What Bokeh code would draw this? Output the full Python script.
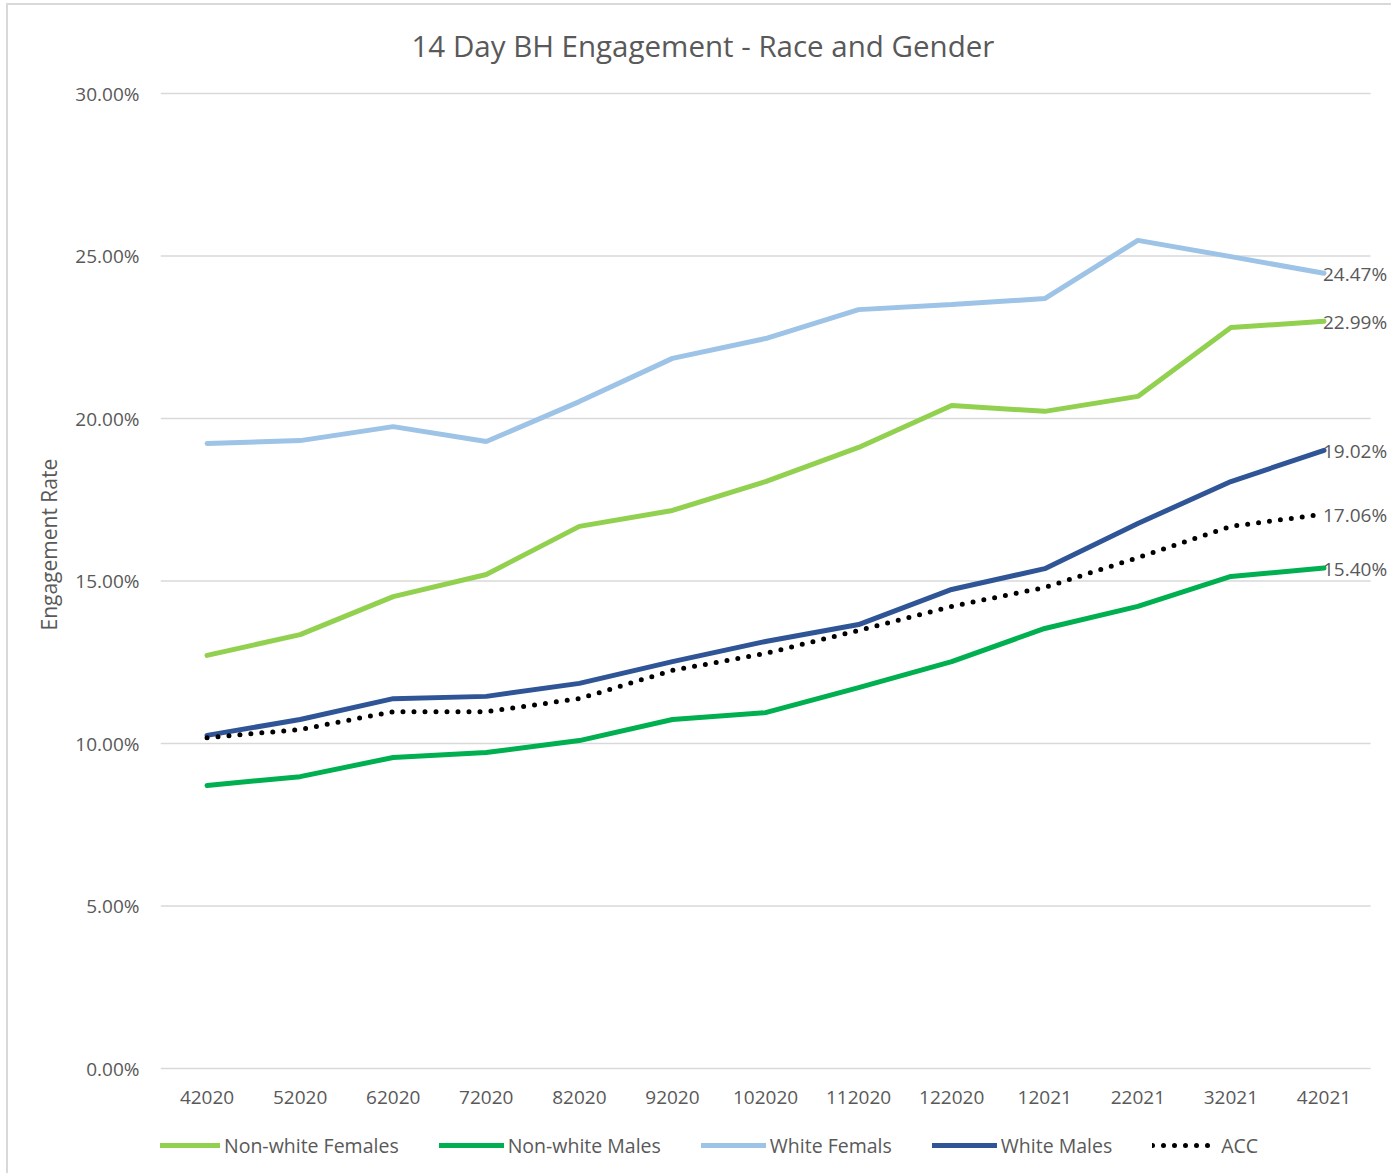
from bokeh.plotting import figure
from bokeh.models import (ColumnDataSource, Range1d, NumeralTickFormatter,
                          FixedTicker, Legend, LegendItem, LabelSet, Label, Title)
from bokeh.core.properties import value
from bokeh.embed import file_html
from bokeh.resources import INLINE

months = ["42020", "52020", "62020", "72020", "82020", "92020", "102020",
          "112020", "122020", "12021", "22021", "32021", "42021"]

nonwhite_females = [12.71, 13.35, 14.52, 15.20, 16.68, 17.17, 18.06, 19.11, 20.40, 20.22, 20.68, 22.80, 22.99]
nonwhite_males = [8.71, 8.98, 9.57, 9.72, 10.09, 10.74, 10.95, 11.72, 12.52, 13.54, 14.22, 15.14, 15.40]
white_femals = [19.23, 19.32, 19.75, 19.29, 20.52, 21.85, 22.46, 23.35, 23.51, 23.69, 25.48, 24.98, 24.47]
white_males = [10.25, 10.74, 11.38, 11.45, 11.85, 12.52, 13.14, 13.66, 14.74, 15.38, 16.77, 18.06, 19.02]
acc = [10.18, 10.43, 10.98, 10.98, 11.38, 12.25, 12.77, 13.48, 14.22, 14.80, 15.72, 16.68, 17.06]

y_ticks = [0, 0.05, 0.10, 0.15, 0.20, 0.25, 0.30]

series_names = ["Non-white Females", "Non-white Males", "White Femals", "White Males", "ACC"]
series_values = [nonwhite_females, nonwhite_males, white_femals, white_males, acc]
series_colors = ["#92d050", "#00b050", "#9dc3e6", "#2f5597", "#000000"]

FONT = "Open Sans"
GREY = "#595959"

idx = list(range(len(months)))
n = len(months)

# layout (pixels): the plotting frame spans the whole chart box so that
# title, category labels and legend can sit inside it without clipping
W, H = 1385, 1170
MB_LEFT, MB_RIGHT, MB_TOP, MB_BOTTOM = 152, 3, 10, 2
frame_h = H - MB_TOP - MB_BOTTOM
frame_w = W - MB_LEFT - MB_RIGHT
band_top, band_bottom = 88 - MB_TOP, 1063 - MB_TOP      # value band 30% .. 0% inside the frame
px_per_unit = (band_bottom - band_top) / 0.30
y_end = 0.30 + band_top / px_per_unit
y_start = -(frame_h - band_bottom) / px_per_unit
px_per_cat = 93.08
x_end = -0.5 + frame_w / px_per_cat

p = figure(width=W, height=H, x_range=Range1d(-0.5, x_end),
           y_range=Range1d(y_start, y_end),
           output_backend="svg", toolbar_location=None,
           min_border_left=MB_LEFT, min_border_right=MB_RIGHT,
           min_border_top=MB_TOP, min_border_bottom=MB_BOTTOM)
p.styles = {"border-left": "2px solid #d9d9d9", "border-top": "2px solid #d9d9d9",
            "margin-left": "6px", "margin-top": "3px"}

p.outline_line_color = None
p.xgrid.grid_line_color = None
p.ygrid.grid_line_color = None
p.xaxis.visible = False

# title
p.add_layout(Label(x=251, y=frame_h - (45 - 5 - MB_TOP), x_units="screen", y_units="screen",
                   text="14 Day BH Engagement - Race and Gender", text_align="left",
                   text_baseline="middle", text_font=FONT, text_font_size="29.5px",
                   text_color=GREY))

# horizontal gridlines spanning the category band only
grid_src = ColumnDataSource(dict(y=y_ticks, x0=[-0.5] * len(y_ticks), x1=[n - 0.5] * len(y_ticks)))
p.segment(x0="x0", x1="x1", y0="y", y1="y", source=grid_src, line_color="#d9d9d9", line_width=1.5)

# category labels under the 0% line
cat_src = ColumnDataSource(dict(x=idx, y=[0] * n, t=months))
p.text(x="x", y="y", text="t", source=cat_src, y_offset=29, text_align="center",
       text_baseline="middle", text_font=value(FONT), text_font_size="19px", text_color=GREY)

p.yaxis.ticker = FixedTicker(ticks=y_ticks)
p.yaxis.formatter = NumeralTickFormatter(format="0.00%")
p.yaxis.axis_line_color = None
p.yaxis.major_tick_line_color = None
p.yaxis.minor_tick_line_color = None
p.yaxis.major_label_text_font = FONT
p.yaxis.major_label_text_font_size = "19px"
p.yaxis.major_label_text_color = GREY
p.yaxis.major_label_standoff = 15

ylab = Title(text="Engagement Rate", align="left", offset=frame_h - (630 - 5 - MB_TOP),
             standoff=19, text_font=FONT, text_font_size="21px", text_font_style="normal",
             text_color=GREY)
p.add_layout(ylab, "left")

items = []
last_x, last_y, last_t = [], [], []
for name, vals, col in zip(series_names, series_values, series_colors):
    src = ColumnDataSource(dict(x=idx, y=[v / 100 for v in vals]))
    if name == "ACC":
        r = p.line("x", "y", source=src, line_color=col, line_width=5,
                   line_dash="0 11", line_cap="round")
    else:
        r = p.line("x", "y", source=src, line_color=col, line_width=5, line_cap="round")
    items.append(LegendItem(label=name, renderers=[r]))
    last_x.append(idx[-1])
    last_y.append(vals[-1] / 100)
    last_t.append(f"{vals[-1]:.2f}%")

lab_src = ColumnDataSource(dict(x=last_x, y=last_y, t=last_t))
labels = LabelSet(x="x", y="y", text="t", source=lab_src, x_offset=-1, y_offset=-1,
                  text_align="left", text_baseline="middle", text_font=value(FONT),
                  text_font_size="19px", text_color=GREY)
p.add_layout(labels)

legend = Legend(items=items, orientation="horizontal", location=(-5, 13),
                glyph_width=65, glyph_height=30, label_standoff=4, spacing=40,
                padding=0, margin=0, border_line_color=None, background_fill_alpha=0,
                label_text_font=FONT, label_text_font_size="19.5px", label_text_color=GREY)
p.add_layout(legend, "center")

open("out.html", "w").write(file_html(p, INLINE))
